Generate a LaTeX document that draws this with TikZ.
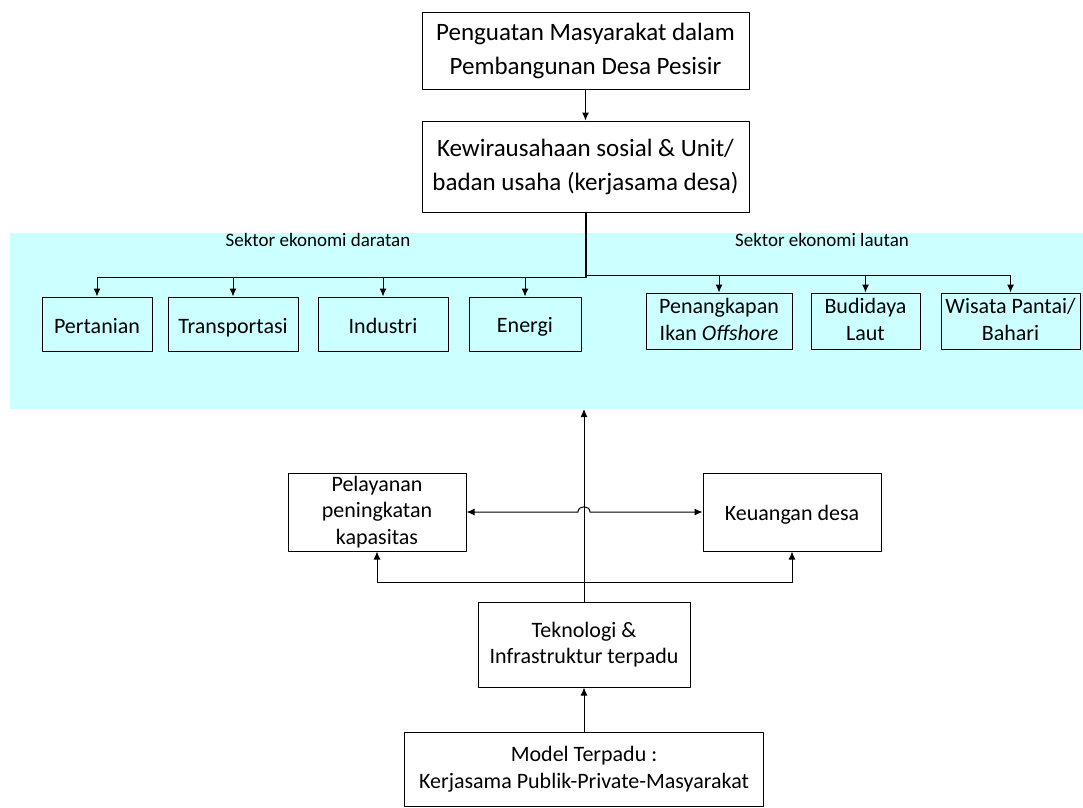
\documentclass[tikz,border=0pt]{standalone}
\usepackage{fontspec}
\setmainfont{Carlito}
\usetikzlibrary{arrows.meta}
\definecolor{bandcyan}{RGB}{204,255,255}

\begin{document}
\begin{tikzpicture}[x=1pt,y=-1pt,line cap=round,line join=round,
    kotak/.style={draw, line width=1pt, align=center, inner sep=0pt,
      execute at begin node=\rule[-0.16em]{0pt}{1.14em},
      execute at end node=\rule[-0.16em]{0pt}{1.14em}},
    besar/.style={kotak, font=\fontsize{25}{34}\selectfont},
    sedang/.style={kotak, font=\fontsize{22}{26.5}\selectfont},
    panah/.style={-{Latex[length=8pt,width=7pt]}, line width=1pt}]
\useasboundingbox (0,0) rectangle (1083,807);
% latar sektor
\fill[bandcyan] (10,233) rectangle (1083,409);
\node[font=\fontsize{19}{22}\selectfont] (daratan) at (318,240) {Sektor ekonomi daratan};
\node[font=\fontsize{19}{22}\selectfont] (lautan) at (822,240) {Sektor ekonomi lautan};
% kotak atas
\node[besar, minimum width=327pt, minimum height=77pt] (penguatan) at (585.5,50.5) {Penguatan Masyarakat dalam\\Pembangunan Desa Pesisir};
\node[besar, minimum width=327pt, minimum height=91pt] (usaha) at (585.5,166.5) {Kewirausahaan sosial \& Unit/\\badan usaha (kerjasama desa)};
\draw[panah] (penguatan) -- (usaha);
% sektor daratan
\node[sedang, minimum width=110pt, minimum height=54pt] (pertanian) at (97,324) {Pertanian};
\node[sedang, minimum width=130pt, minimum height=54pt] (transportasi) at (233,324) {Transportasi};
\node[sedang, minimum width=130pt, minimum height=54pt] (industri) at (383,324) {Industri};
\node[sedang, minimum width=112pt, minimum height=54pt] (energi) at (525,324) {Energi};
% sektor lautan
\node[sedang, minimum width=146pt, minimum height=56pt] (tangkap) at (719,321) {Penangkapan\\Ikan \textit{Offshore}};
\node[sedang, minimum width=109pt, minimum height=56pt] (budidaya) at (865.5,321) {Budidaya\\Laut};
\node[sedang, minimum width=139pt, minimum height=56pt] (wisata) at (1010.5,321) {Wisata Pantai/\\Bahari};
% cabang
\coordinate (simpul) at (585.5,277);
\draw[line width=2pt] (usaha.south) -- (simpul);
\foreach \s in {pertanian,transportasi,industri,energi}
  \draw[panah] (simpul) -| (\s.north);
\foreach \s in {tangkap,budidaya,wisata}
  \draw[panah] (585.5,275) -| (\s.north);
% kotak bawah
\node[sedang, minimum width=178pt, minimum height=78pt] (pelayanan) at (377,512) {Pelayanan\\peningkatan\\kapasitas};
\node[sedang, minimum width=178pt, minimum height=78pt] (keuangan) at (792,512) {Keuangan desa};
\node[sedang, minimum width=212pt, minimum height=85pt] (teknologi) at (584,644.5) {Teknologi \&\\Infrastruktur terpadu};
\node[sedang, minimum width=359pt, minimum height=74pt] (model) at (584,769) {Model Terpadu :\\Kerjasama Publik-Private-Masyarakat};
\coordinate (sektor) at (584,409);
\coordinate (bagi) at (584,582);
\draw[panah] (model) -- (teknologi);
\draw[panah] (teknologi.north) -- (sektor);
\draw[panah] (bagi) -| (pelayanan.south);
\draw[panah] (bagi) -| (keuangan.south);
\draw[{Latex[length=8pt,width=7pt]}-{Latex[length=8pt,width=7pt]}, line width=1pt]
  (pelayanan.east) -- (578,512) .. controls (578,505) and (590,505) .. (590,512) -- (keuangan.west);
\end{tikzpicture}
\end{document}
